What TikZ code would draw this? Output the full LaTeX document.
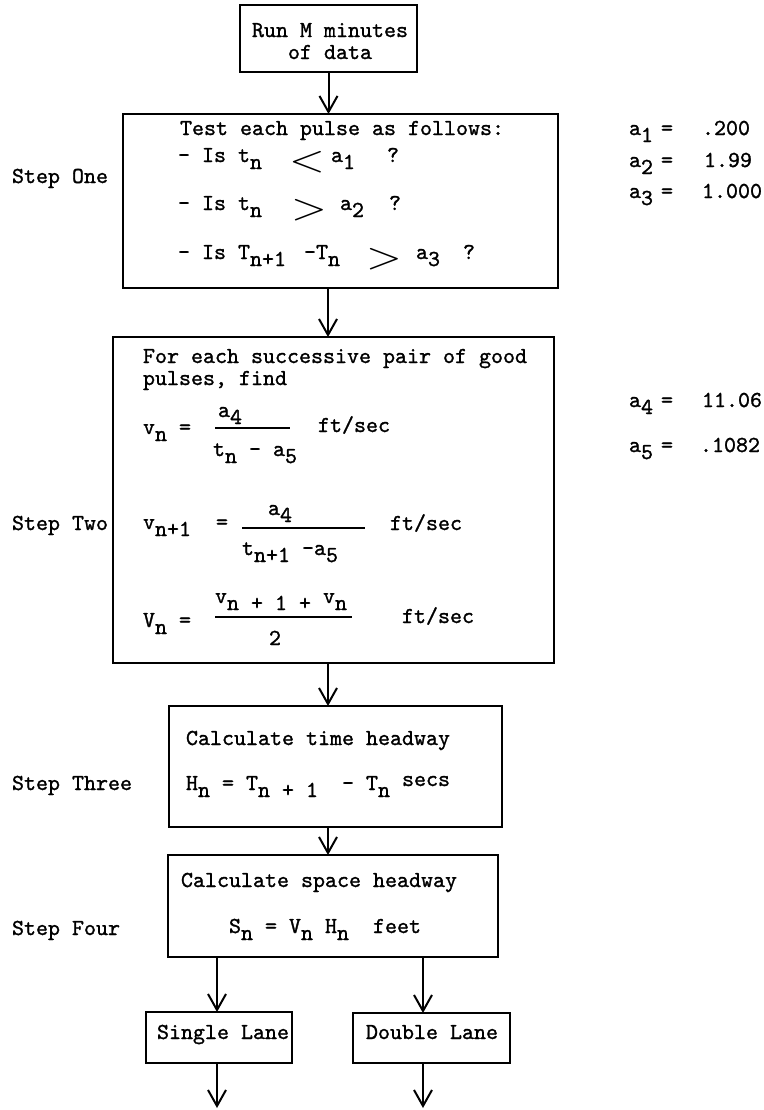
\documentclass[tikz,border=0pt]{standalone}
\usepackage{fontspec}
\usepackage{graphicx}
\usetikzlibrary{arrows.meta}
\newfontfamily\twfont{lmmono10-regular}[Extension=.otf, FakeBold=1.2]
\newcommand\sbx[1]{\raisebox{-3.5pt}{#1}}
\newcommand\bigrel[1]{\raisebox{-4.5pt}{\scalebox{2.1}[1.7]{$#1$}}}
\begin{document}
\begin{tikzpicture}[x=0.5pt,y=-0.5pt,
  every node/.style={font=\twfont\fontsize{11.43pt}{14pt}\selectfont, inner sep=0pt, outer sep=0pt},
  boxnode/.style={draw, line width=1.3pt},
  txt/.style={anchor=base west},
  ctxt/.style={anchor=base},
  arr/.style={line width=1pt, -{Straight Barb[length=8pt,width=9pt,line width=1pt]}},
  fracbar/.style={line width=0.8pt}]
\useasboundingbox (0,0) rectangle (764,1110);

% boxes
\node[boxnode, minimum width=88.5pt, minimum height=33.5pt] (b1) at (328.5,38.5) {};
\node[boxnode, minimum width=217.5pt, minimum height=87pt] (s1) at (340.5,201) {};
\node[boxnode, minimum width=220.5pt, minimum height=163pt] (s2) at (333.5,500) {};
\node[boxnode, minimum width=166.5pt, minimum height=60.5pt] (s3) at (335.5,766.5) {};
\node[boxnode, minimum width=165pt, minimum height=51pt] (s4) at (333,906) {};
\node[boxnode, minimum width=73pt, minimum height=25.5pt] (sl) at (219,1037.5) {};
\node[boxnode, minimum width=78.5pt, minimum height=25pt] (dl) at (431.5,1038) {};

% arrows
\coordinate (ax) at (328,0);
\coordinate (lx) at (217,0);
\coordinate (rx) at (423,0);
\coordinate (e1) at (217,1108);
\coordinate (e2) at (423,1108);
\draw[arr] (b1.south) -- (b1.south |- s1.north);
\draw[arr] (ax |- s1.south) -- (ax |- s2.north);
\draw[arr] (ax |- s2.south) -- (ax |- s3.north);
\draw[arr] (ax |- s3.south) -- (ax |- s4.north);
\draw[arr] (lx |- s4.south) -- (lx |- sl.north);
\draw[arr] (rx |- s4.south) -- (rx |- dl.north);
\draw[arr] (lx |- sl.south) -- (e1);
\draw[arr] (rx |- dl.south) -- (e2);

% top box
\node[ctxt] (r1) at (330,37) {Run M minutes};
\node[ctxt] (r2) at (330,59) {of data};

% step one
\node[txt] (t1) at (180,135) {Test each pulse as follows:};
\node[txt] (t2a) at (178,162) {- Is t\sbx{n}};
\node[txt] (t2b) at (289,162) {\bigrel{<}};
\node[txt] (t2c) at (331,162) {a\sbx{1}};
\node[txt] (t2d) at (387,162) {?};
\node[txt] (t3a) at (178,210) {- Is t\sbx{n}};
\node[txt] (t3b) at (291,210) {\bigrel{>}};
\node[txt] (t3c) at (340,210) {a\sbx{2}};
\node[txt] (t3d) at (389,210) {?};
\node[txt] (t4a) at (178,259) {- Is T\sbx{n+1}};
\node[txt] (t4b) at (304,259) {-T\sbx{n}};
\node[txt] (t4c) at (366,259) {\bigrel{>}};
\node[txt] (t4d) at (416,259) {a\sbx{3}};
\node[txt] (t4e) at (463,259) {?};

% step two
\node[txt] (u1) at (143,363) {For each successive pair of good};
\node[txt] (u2) at (143,385) {pulses, find};
\node[txt] (u3a) at (143,434) {v\sbx{n} =};
\node[txt] (u3n) at (218,417) {a\sbx{4}};
\draw[fracbar] (215,428) -- (290,428);
\node[txt] (u3d) at (213,456) {t\sbx{n} - a\sbx{5}};
\node[txt] (u3f) at (318,432) {ft/sec};
\node[txt] (u4a) at (143,529) {v\sbx{n+1}};
\node[txt] (u4e) at (216,529) {=};
\node[txt] (u4n) at (268,515) {a\sbx{4}};
\draw[fracbar] (242,528) -- (365,528);
\node[txt] (u4d) at (242,555) {t\sbx{n+1} -a\sbx{5}};
\node[txt] (u4f) at (390,530) {ft/sec};
\node[txt] (u5a) at (143,627) {V\sbx{n} =};
\node[txt] (u5n) at (215,603) {v\sbx{n + 1 + }v\sbx{n}};
\draw[fracbar] (215,617) -- (352,617);
\node[txt] (u5d) at (269,645) {2};
\node[txt] (u5f) at (402,623) {ft/sec};

% step three
\node[txt] (h1) at (186,745) {Calculate time headway};
\node[txt] (h2) at (186,790) {H\sbx{n} = T\sbx{n + 1}~~- T\sbx{n} \raisebox{2pt}{secs}};

% step four
\node[txt] (k1) at (181,887) {Calculate space headway};
\node[txt] (k2) at (229,933) {S\sbx{n} = V\sbx{n} H\sbx{n}~~feet};

% lanes
\node[txt] (q1) at (157,1039) {Single Lane};
\node[txt] (q2) at (366,1039) {Double Lane};

% step labels
\node[txt] (L1) at (12,183) {Step One};
\node[txt] (L2) at (12,530) {Step Two};
\node[txt] (L3) at (12,790) {Step Three};
\node[txt] (L4) at (12,935) {Step Four};

% constants
\node[txt] (p1) at (629,135) {a\sbx{1}};
\node[txt] (p1e) at (661,135) {=};
\node[txt] (p1v) at (702,135) {.200};
\node[txt] (p2) at (629,167) {a\sbx{2}};
\node[txt] (p2e) at (661,167) {=};
\node[txt] (p2v) at (704,167) {1.99};
\node[txt] (p3) at (629,198) {a\sbx{3}};
\node[txt] (p3e) at (661,198) {=};
\node[txt] (p3v) at (702,198) {1.000};
\node[txt] (p4) at (629,407) {a\sbx{4}};
\node[txt] (p4e) at (661,407) {=};
\node[txt] (p4v) at (702,407) {11.06};
\node[txt] (p5) at (629,452) {a\sbx{5}};
\node[txt] (p5e) at (661,452) {=};
\node[txt] (p5v) at (700,452) {.1082};
\end{tikzpicture}
\end{document}
